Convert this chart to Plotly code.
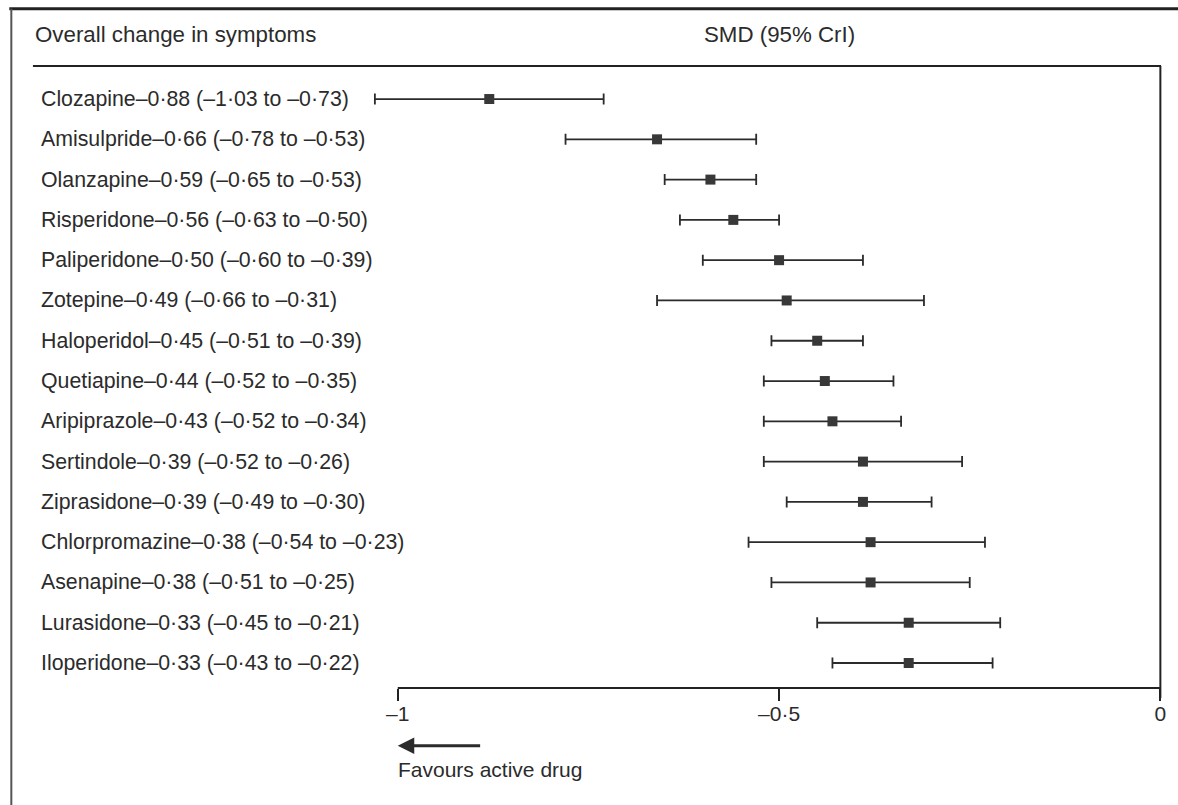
import plotly.graph_objects as go

drugs = ["Clozapine", "Amisulpride", "Olanzapine", "Risperidone", "Paliperidone",
         "Zotepine", "Haloperidol", "Quetiapine", "Aripiprazole", "Sertindole",
         "Ziprasidone", "Chlorpromazine", "Asenapine", "Lurasidone", "Iloperidone"]
smd = [-0.88, -0.66, -0.59, -0.56, -0.50, -0.49, -0.45, -0.44, -0.43, -0.39,
       -0.39, -0.38, -0.38, -0.33, -0.33]
lower = [-1.03, -0.78, -0.65, -0.63, -0.60, -0.66, -0.51, -0.52, -0.52, -0.52,
         -0.49, -0.54, -0.51, -0.45, -0.43]
upper = [-0.73, -0.53, -0.53, -0.50, -0.39, -0.31, -0.39, -0.35, -0.34, -0.26,
         -0.30, -0.23, -0.25, -0.21, -0.22]
tick_vals = [-1, -0.5, 0]
tick_text = ["–1", "–0·5", "0"]


def fmt(v):
    s = f"{abs(v):.2f}".replace(".", "·")
    return ("–" if v < 0 else "") + s


rows = list(range(len(drugs)))
labels = [f"{d}{fmt(m)} ({fmt(lo)} to {fmt(hi)})" for d, m, lo, hi in zip(drugs, smd, lower, upper)]

FONT = "Liberation Sans"
INK = "#2b2b2b"

fig = go.Figure()
fig.add_trace(go.Scatter(
    x=smd, y=rows, mode="markers",
    marker=dict(symbol="square", size=10, color="#383838"),
    error_x=dict(type="data", symmetric=False,
                 array=[h - m for h, m in zip(upper, smd)],
                 arrayminus=[m - lo for m, lo in zip(smd, lower)],
                 thickness=1.8, width=5.5, color=INK),
    showlegend=False, hoverinfo="skip",
))

annotations = []
for r, lab in zip(rows, labels):
    annotations.append(dict(xref="paper", yref="y", x=-0.3835, y=r, text=lab,
                            showarrow=False, xanchor="left", yanchor="middle",
                            font=dict(family=FONT, size=21.3, color=INK)))
annotations += [
    dict(xref="paper", yref="paper", x=-0.391, y=1.05, text="Overall change in symptoms",
         showarrow=False, xanchor="left", yanchor="middle",
         font=dict(family=FONT, size=22.3, color=INK)),
    dict(xref="x", yref="paper", x=-0.5, y=1.05, text="SMD (95% CrI)",
         showarrow=False, xanchor="center", yanchor="middle",
         font=dict(family=FONT, size=22.3, color=INK)),
    dict(xref="x", yref="paper", x=-1.0, y=-0.093, ax=-0.89, ay=0,
         axref="x", ayref="pixel", text="", showarrow=True,
         arrowhead=2, arrowsize=1.1, arrowwidth=3, arrowcolor=INK),
    dict(xref="x", yref="paper", x=-1.002, y=-0.131, text="Favours active drug",
         showarrow=False, xanchor="left", yanchor="middle",
         font=dict(family=FONT, size=21, color=INK)),
]

shapes = [
    # outer frame: top and left
    dict(type="line", xref="paper", yref="paper", x0=-0.42, x1=1.02, y0=1.092, y1=1.092,
         line=dict(color="#222", width=3)),
    dict(type="line", xref="paper", yref="paper", x0=-0.4175, x1=-0.4175, y0=1.092, y1=-0.2,
         line=dict(color="#555", width=2)),
    # header rule
    dict(type="line", xref="paper", yref="paper", x0=-0.391, x1=0.9915, y0=1.0, y1=1.0,
         line=dict(color="#222", width=2)),
    # zero line
    dict(type="line", xref="x", yref="paper", x0=0, x1=0, y0=-0.016, y1=1.0,
         line=dict(color="#222", width=2)),
    # axis line from -1 to 0
    dict(type="line", xref="x", yref="paper", x0=-1, x1=0, y0=0, y1=0,
         line=dict(color="#222", width=2)),
]

fig.update_layout(
    width=1178, height=805,
    margin=dict(l=352, r=10, t=66, b=117),
    paper_bgcolor="white", plot_bgcolor="white",
    annotations=annotations, shapes=shapes,
    xaxis=dict(range=[-1.06, 0.01], tickvals=tick_vals, ticktext=tick_text,
               showgrid=False, zeroline=False, showline=False,
               ticks="outside", ticklen=12, tickwidth=2, tickcolor="#222",
               ticklabelstandoff=-5,
               tickfont=dict(family=FONT, size=21, color=INK)),
    yaxis=dict(range=[14.62, -0.82], visible=False, showgrid=False, zeroline=False),
)

fig.write_html("out.html")
